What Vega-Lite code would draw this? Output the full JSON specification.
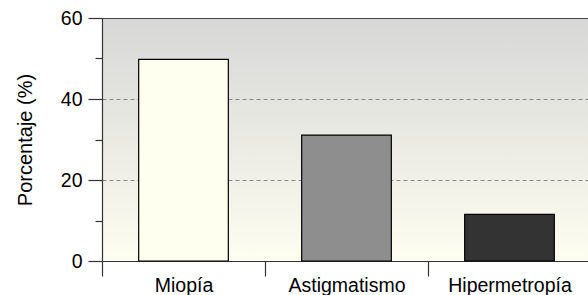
{
  "$schema": "https://vega.github.io/schema/vega-lite/v6.json",
  "autosize": "none",
  "padding": {"left": 102, "top": 18, "right": 0, "bottom": 34},
  "width": 486,
  "height": 243,
  "data": {"values": [
    {"tipo": "Miopía", "pct": 49.8},
    {"tipo": "Astigmatismo", "pct": 31.1},
    {"tipo": "Hipermetropía", "pct": 11.5}
  ]},
  "config": {
    "font": "Liberation Sans",
    "view": {
      "stroke": null,
      "fill": {"gradient": "linear", "x1": 0, "y1": 0, "x2": 0, "y2": 1,
        "stops": [{"offset": 0, "color": "#d7d7d7"}, {"offset": 1, "color": "#fdfdf0"}]}
    },
    "axis": {"labelFont": "Liberation Sans", "titleFont": "Liberation Sans", "labelColor": "#000", "titleColor": "#000", "labelFontSize": 19.5, "titleFontSize": 20, "titleFontWeight": "normal", "domainColor": "#333", "tickColor": "#333", "domainWidth": 1.2, "tickWidth": 1.2}
  },
  "mark": {"type": "bar", "width": {"band": 0.55}, "stroke": "#000", "strokeWidth": 1.2},
  "encoding": {
    "x": {
      "field": "tipo", "type": "nominal", "sort": null,
      "scale": {"paddingInner": 0, "paddingOuter": 0, "range": [0, 489]},
      "axis": {"title": null, "labelAngle": 0, "tickBand": "extent", "tickSize": 15, "labelPadding": 0, "grid": false}
    },
    "y": {
      "field": "pct", "type": "quantitative",
      "scale": {"domain": [0, 60], "nice": false},
      "axis": {
        "title": "Porcentaje (%)",
        "values": [0, 10, 20, 30, 40, 50, 60],
        "labelExpr": "datum.value % 20 === 0 ? datum.label : ''",
        "tickSize": {"condition": {"test": "datum.value % 20 !== 0", "value": 7}, "value": 14},
        "labelPadding": 6,
        "titlePadding": 25,
        "grid": true,
        "gridDash": {"condition": {"test": "datum.value === 60", "value": []}, "value": [4, 3]},
        "gridColor": {"condition": {"test": "datum.value === 60", "value": "#444"}, "value": "#888"},
        "gridWidth": {"condition": {"test": "datum.value === 60", "value": 1.2}, "value": 1},
        "gridOpacity": {"condition": {"test": "datum.value === 20 || datum.value === 40 || datum.value === 60", "value": 1}, "value": 0}
      }
    },
    "color": {
      "field": "tipo", "type": "nominal", "legend": null,
      "scale": {"domain": ["Miopía", "Astigmatismo", "Hipermetropía"], "range": ["#fffff0", "#8e8e8e", "#333333"]}
    }
  }
}
